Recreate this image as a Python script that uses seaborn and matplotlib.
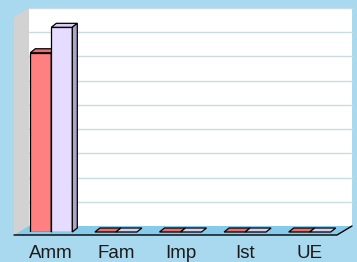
import numpy as np
import pandas as pd
import matplotlib
matplotlib.use("Agg")
import matplotlib.pyplot as plt
from matplotlib.patches import Polygon
import seaborn as sns

# Data (grid units, no axis labels shown)
categories = ["Amm", "Fam", "Imp", "Ist", "UE"]
series_a = [7.4, 0, 0, 0, 0]
series_b = [8.45, 0, 0, 0, 0]
series_names = ["A", "B"]

BG = "#A9D9EE"
FLOOR = "#86CCEA"
WALL = "#D2D2D2"
FRONT = {"A": "#FF8080", "B": "#E6DCFF"}
TOP = {"A": "#E87070", "B": "#D8CDF2"}
SIDE = {"A": "#C86060", "B": "#ADA5C8"}

df = pd.DataFrame({
    "cat": categories * 2,
    "val": series_a + series_b,
    "series": [series_names[0]] * 5 + [series_names[1]] * 5,
})

sns.set_theme(style="white")
plt.rcParams["font.family"] = ["Liberation Sans", "DejaVu Sans"]

W, H = 357, 262
fig = plt.figure(figsize=(W / 100, H / 100), dpi=100, facecolor=BG)
# axes = plane of the bars' front faces
ax = fig.add_axes([19 / W, 30 / H, 323 / W, 218 / H])
ax.set_facecolor("none")

sns.barplot(data=df, x="cat", y="val", hue="series", order=categories,
            palette=FRONT, saturation=1, width=0.65, edgecolor="black",
            linewidth=0.9, legend=False, ax=ax, zorder=3)
ax.set_xlim(-0.5, 4.5)
ax.set_ylim(0, 9)

px = 5 / 323   # data units per pixel in x
py = 9 / 218   # data units per pixel in y

# back wall plane: offset (+10, +6) px from bar plane
bx0, bx1 = -0.5 + 10 * px, 4.5 + 10 * px
by0 = 6 * py
ax.add_patch(Polygon([(bx0, by0), (bx1, by0), (bx1, by0 + 9), (bx0, by0 + 9)],
                     closed=True, facecolor="white", edgecolor="none",
                     zorder=0, clip_on=False))
for k in range(1, 10):
    ax.plot([bx0, bx1], [by0 + k, by0 + k], color="#CADCE0", lw=1.0,
            zorder=0.5, clip_on=False)

# front plane: offset (-5, -3) px
fx0, fx1 = -0.5 - 5 * px, 4.5 - 5 * px
fy0 = -3 * py
# left side wall
ax.add_patch(Polygon([(fx0, fy0), (bx0, by0), (bx0, by0 + 9), (fx0, fy0 + 9)],
                     closed=True, facecolor=WALL, edgecolor="none",
                     zorder=1, clip_on=False))
# floor
ax.add_patch(Polygon([(fx0, fy0), (fx1, fy0), (bx1, by0), (bx0, by0)],
                     closed=True, facecolor=FLOOR, edgecolor="none",
                     zorder=1, clip_on=False))
ax.plot([fx0, fx1, bx1], [fy0, fy0, by0], color="black", lw=1.0,
        zorder=1.5, clip_on=False)

# 3d faces for each bar
dx, dy = 5 * px, 4 * py
for i, p in enumerate(ax.patches):
    if not hasattr(p, "get_height") or p.get_width() < 0.01:
        continue
    s = series_names[0] if i < len(categories) else series_names[1]
    z = 3 if s == series_names[0] else 4
    p.set_zorder(z)
    x0 = p.get_x()
    x1 = x0 + p.get_width()
    h = p.get_height()
    ax.add_patch(Polygon([(x0, h), (x1, h), (x1 + dx, h + dy), (x0 + dx, h + dy)],
                         closed=True, facecolor=TOP[s], edgecolor="black",
                         lw=0.9, zorder=z + 0.1, clip_on=False))
    if h > 0:
        ax.add_patch(Polygon([(x1, 0), (x1 + dx, dy), (x1 + dx, h + dy), (x1, h)],
                             closed=True, facecolor=SIDE[s], edgecolor="black",
                             lw=0.9, zorder=z + 0.1, clip_on=False))

ax.set_xlabel("")
ax.set_ylabel("")
ax.set_yticks([])
ax.tick_params(axis="x", length=0, pad=9, labelsize=13.5, labelcolor="#1a1a1a")
for lbl in ax.get_xticklabels():
    lbl.set_x(lbl.get_position()[0])
for sp in ax.spines.values():
    sp.set_visible(False)

fig.savefig("out.png", dpi=100, facecolor=BG)
